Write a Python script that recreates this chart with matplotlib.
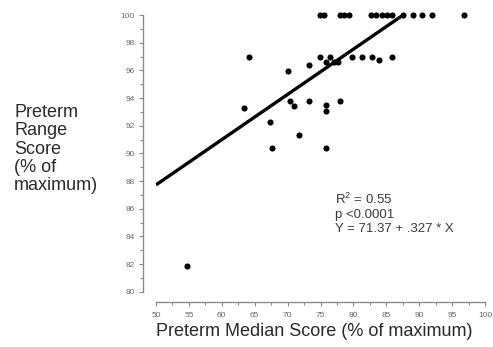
import numpy as np
import matplotlib
matplotlib.use("Agg")
import matplotlib.pyplot as plt
from matplotlib.ticker import MultipleLocator

plt.rcParams['font.family'] = ['Liberation Sans', 'DejaVu Sans']
plt.rcParams['mathtext.fontset'] = 'custom'
plt.rcParams['mathtext.rm'] = 'Liberation Sans'

# Median vs range scores (% of maximum)
median_score = [
    74.95, 75.6, 77.98, 78.6, 79.4, 82.68, 83.5, 84.3, 85.15, 85.9, 87.6, 89.0, 90.5, 92.0, 96.8,
    64.2, 74.95, 76.4, 79.8, 81.3, 82.8, 83.9, 85.8,
    75.8, 77.0, 77.7,
    70.05, 73.2,
    63.3, 70.3, 71.0, 73.3, 75.9, 75.9, 78.0,
    67.4, 71.7, 67.6, 75.9,
    54.65,
]
range_score = [
    100, 100, 100, 100, 100, 100, 100, 100, 100, 100, 100, 100, 100, 100, 100,
    96.94, 96.94, 96.94, 96.94, 96.94, 96.94, 96.75, 96.94,
    96.6, 96.6, 96.6,
    95.97, 96.4,
    93.3, 93.8, 93.45, 93.8, 93.5, 93.06, 93.8,
    92.3, 91.3, 90.36, 90.36,
    81.85,
]

intercept = 71.37
slope = 0.327
r_squared = 0.55
fit_x = np.array([50.0, (100.0 - intercept) / slope])
fit_y = intercept + slope * fit_x

x_ticks = list(range(50, 101, 5))
y_ticks = list(range(80, 101, 2))

W, H = 493, 347
fig = plt.figure(figsize=(W / 100, H / 100), dpi=100)
ax = fig.add_axes([156 / W, 1 - 291.7 / H, (485 - 156) / W, (291.7 - 15) / H])
ax.set_xlim(50, 100)
ax.set_ylim(80, 100)

ax.plot(fit_x, fit_y, color='black', lw=2.4, solid_capstyle='butt', zorder=2)
ax.plot(median_score, range_score, 'o', color='black', ms=4.4, mew=0, zorder=3,
        clip_on=False)

for side in ('top', 'right'):
    ax.spines[side].set_visible(False)
axis_grey = '#8a8a8a'
ax.spines['left'].set_position(('outward', 9.4))
ax.spines['bottom'].set_position(('outward', 7.2))
ax.spines['left'].set_bounds(80, 100)
ax.spines['bottom'].set_bounds(50, 100)
for side in ('left', 'bottom'):
    ax.spines[side].set_color(axis_grey)
    ax.spines[side].set_linewidth(1.0)

ax.set_xticks(x_ticks)
ax.set_yticks(y_ticks)
ax.xaxis.set_minor_locator(MultipleLocator(2.5))
ax.yaxis.set_minor_locator(MultipleLocator(1))
ax.tick_params(which='major', direction='out', length=3, width=0.8, color=axis_grey,
               labelsize=6, labelcolor='#666666')
ax.tick_params(axis='x', which='major', pad=4.5)
ax.tick_params(axis='y', which='major', pad=3)
ax.tick_params(which='minor', direction='out', length=2, width=0.8, color=axis_grey)

fig.text(14 / W, 1 - 149 / H, 'Preterm\nRange\nScore\n(% of\nmaximum)',
         ha='left', va='center', fontsize=13, linespacing=1.08, color='#2a2a2a')
fig.text(314 / W, 1 - 332 / H, 'Preterm Median Score (% of maximum)',
         ha='center', va='center', fontsize=13, color='#2a2a2a')

stats_lines = [
    f'R$^{{2}}$ = {r_squared:.2f}',
    'p <0.0001',
    f'Y = {intercept:.2f} + {str(slope)[1:]} * X',
]
for i, line in enumerate(stats_lines):
    fig.text(335 / W, 1 - (204.5 + 13.7 * i) / H, line, ha='left', va='baseline',
             fontsize=9.5, color='#3a3a3a')

fig.savefig('out.png', dpi=100)
